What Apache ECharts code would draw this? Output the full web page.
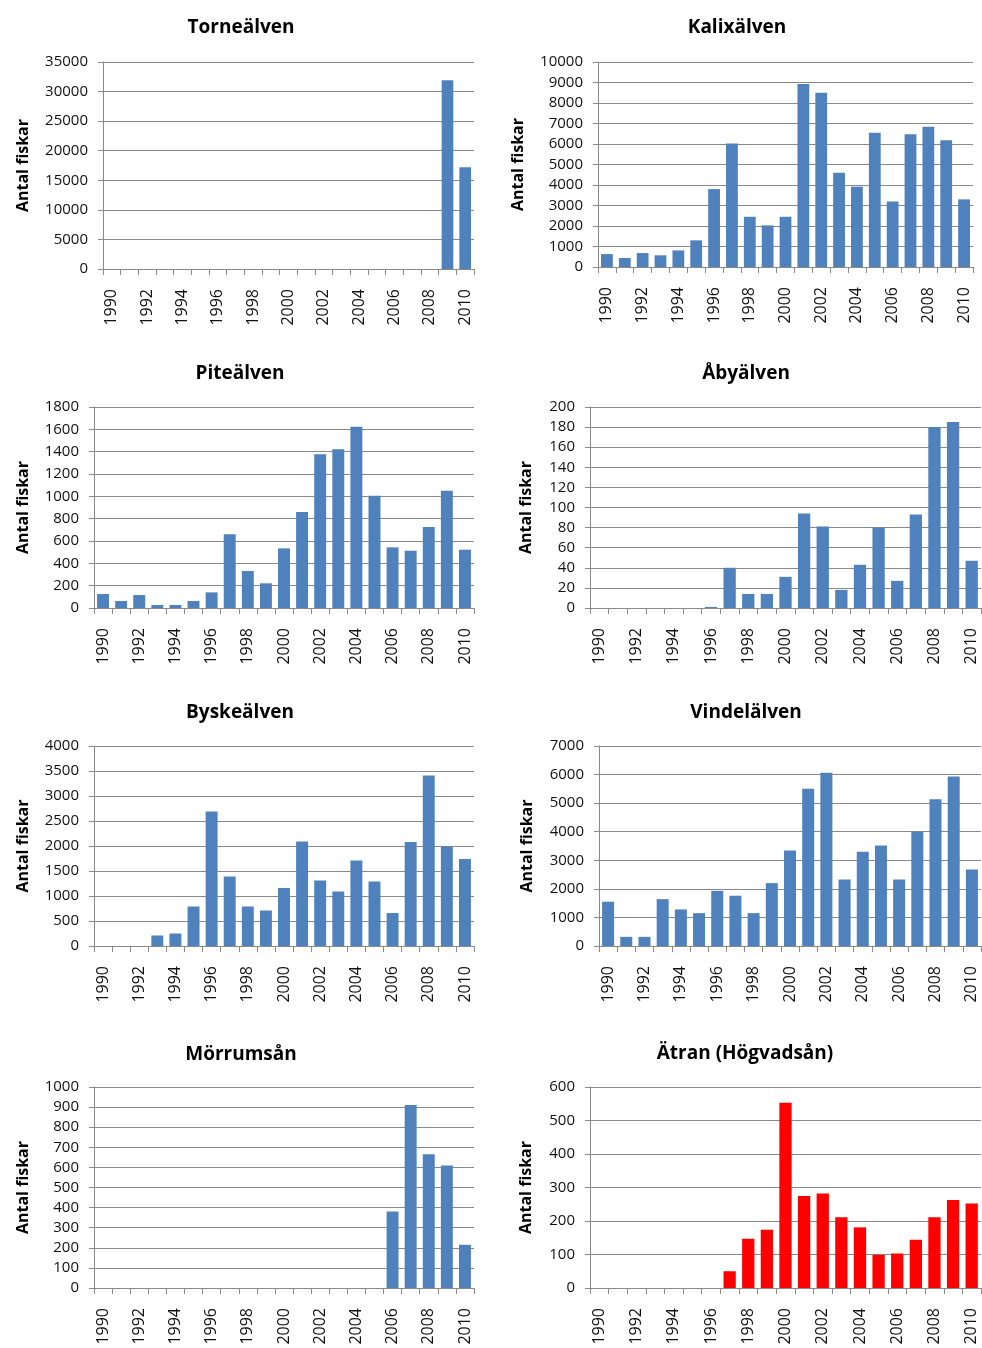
<!DOCTYPE html>
<html>
<head>
<meta charset="utf-8">
<script src="https://cdn.jsdelivr.net/npm/echarts@6/dist/echarts.min.js"></script>
<style>
  html, body { margin: 0; padding: 0; background: #ffffff; }
  #chart { width: 982px; height: 1348px; }
</style>
</head>
<body>
<div id="chart"></div>
<script>
// Counted salmon (antal fiskar) per river, 1990–2010
const years = ['1990','1991','1992','1993','1994','1995','1996','1997','1998','1999','2000',
               '2001','2002','2003','2004','2005','2006','2007','2008','2009','2010'];

const torne  = [null,null,null,null,null,null,null,null,null,null,null,null,null,null,null,null,null,null,null,31900,17200];
const kalix  = [630,440,680,570,810,1300,3800,6030,2450,2030,2450,8930,8500,4600,3920,6550,3190,6480,6840,6180,3300];
const pite   = [125,63,116,27,27,63,140,660,331,221,534,860,1376,1421,1624,1006,543,513,725,1051,522];
const aby    = [null,null,null,null,null,null,1,40,14,14,31,94,81,18,43,80,27,93,180,185,47];
const byske  = [null,null,null,210,250,790,2690,1390,790,710,1160,2090,1310,1090,1710,1290,660,2080,3410,1990,1740];
const vindel = [1550,320,320,1640,1280,1150,1930,1760,1150,2200,3340,5500,6060,2330,3300,3520,2330,4000,5140,5930,2680];
const morrum = [null,null,null,null,null,null,null,null,null,null,null,null,null,null,null,null,380,910,665,610,215];
const atran  = [null,null,null,null,null,null,null,50,147,174,553,275,282,211,181,99,103,144,211,263,252];

const riverNames = ['Torneälven','Kalixälven','Piteälven','Åbyälven','Byskeälven','Vindelälven','Mörrumsån','Ätran (Högvadsån)'];
const riverData  = [torne, kalix, pite, aby, byske, vindel, morrum, atran];
const yMax       = [35000, 10000, 1800, 200, 4000, 7000, 1000, 600];
const yStep      = [5000, 1000, 200, 20, 500, 1000, 100, 100];
const yName      = 'Antal fiskar';

// plot rectangles: left, top, width, height; title centre; name gap
const layout = [
  { l: 103, t: 62,   w: 371, h: 207, tx: 241, ty: 28,   gap: 72 },
  { l: 598, t: 62,   w: 375, h: 205, tx: 737, ty: 28,   gap: 72 },
  { l: 94,  t: 407,  w: 380, h: 201, tx: 240, ty: 374,  gap: 63 },
  { l: 590, t: 407,  w: 391, h: 201, tx: 746, ty: 374,  gap: 56 },
  { l: 94,  t: 746,  w: 380, h: 200, tx: 240, ty: 713,  gap: 63 },
  { l: 599, t: 746,  w: 382, h: 200, tx: 746, ty: 713,  gap: 64 },
  { l: 94,  t: 1087, w: 380, h: 201, tx: 241, ty: 1055, gap: 63 },
  { l: 590, t: 1087, w: 391, h: 201, tx: 745, ty: 1054, gap: 56 }
];

const FONT = 'Open Sans';
const GRID_GRAY = '#8a8a8a';
const TEXT = '#111111';
const BLUE = '#4f81bd';
const RED = '#ff0000';

const option = {
  backgroundColor: '#ffffff',
  animation: false,
  title: [], grid: [], xAxis: [], yAxis: [], series: []
};

riverNames.forEach((name, i) => {
  const L = layout[i];
  option.title.push({
    text: name,
    left: L.tx, top: L.ty,
    textAlign: 'center',
    textVerticalAlign: 'middle',
    padding: 0,
    textStyle: { fontFamily: FONT, fontWeight: 'bold', fontSize: 19, color: '#000' }
  });
  option.grid.push({ left: L.l, top: L.t, width: L.w, height: L.h, containLabel: false });
  option.xAxis.push({
    type: 'category', gridIndex: i, data: years, boundaryGap: true,
    axisLine: { show: true, lineStyle: { color: GRID_GRAY, width: 1 } },
    axisTick: { show: true, interval: 0, length: 6, alignWithLabel: false, lineStyle: { color: GRID_GRAY } },
    axisLabel: { interval: 1, rotate: 90, margin: 20, fontFamily: FONT, fontSize: 16, color: TEXT },
    splitLine: { show: false }
  });
  option.yAxis.push({
    type: 'value', gridIndex: i, min: 0, max: yMax[i], interval: yStep[i],
    name: yName, nameLocation: 'middle', nameGap: L.gap, nameRotate: 90,
    nameTextStyle: { fontFamily: FONT, fontWeight: 'bold', fontSize: 16, color: '#000' },
    axisLine: { show: true, lineStyle: { color: GRID_GRAY, width: 1 } },
    axisTick: { show: true, length: 5, lineStyle: { color: GRID_GRAY } },
    axisLabel: { margin: 15, fontFamily: FONT, fontSize: 15, color: TEXT, formatter: v => String(v) },
    splitLine: { show: true, lineStyle: { color: GRID_GRAY, width: 1 } }
  });
  option.series.push({
    type: 'bar', xAxisIndex: i, yAxisIndex: i, data: riverData[i],
    barCategoryGap: '34%',
    itemStyle: { color: i === 7 ? RED : BLUE },
    silent: true
  });
});

const chart = echarts.init(document.getElementById('chart'), null, { renderer: 'canvas' });
chart.setOption(option);
</script>
</body>
</html>
